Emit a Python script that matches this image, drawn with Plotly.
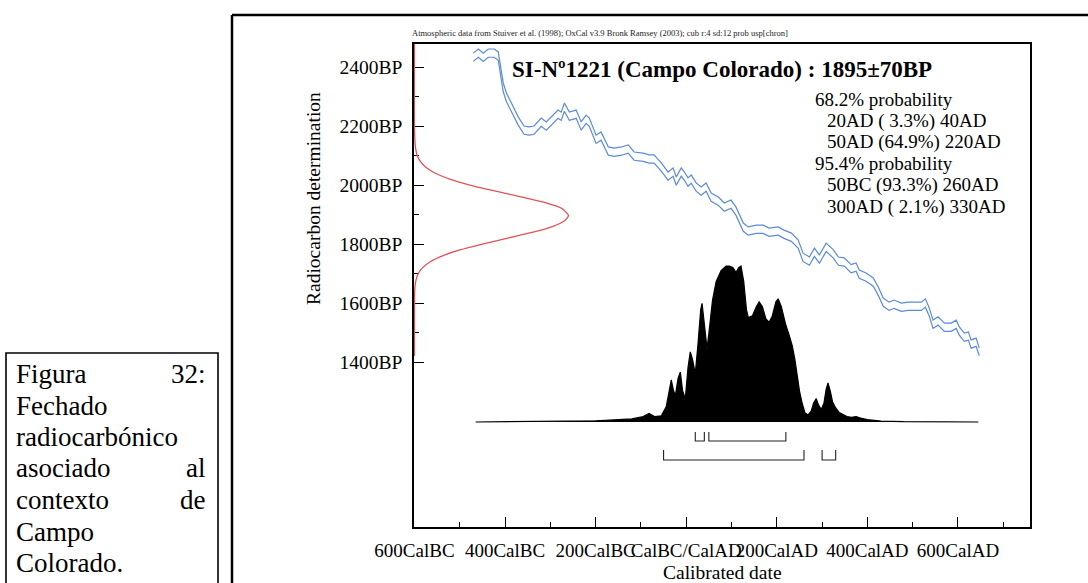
import plotly.graph_objects as go

# ---------------- data ----------------
# calibration curve (IntCal98 band, upper and lower edges)  year AD (neg = BC), BP
cal_year = [-470, -459, -448, -437, -424, -415, -404, -397, -386, -371, -358, -347, -336, -320,
            -309, -294, -283, -276, -269, -258, -243, -232, -221, -214, -199, -188, -172, -159,
            -143, -128, -115, -95, -82, -71, -55, -40, -29, -22, -11, -4, 4, 11, 22, 33, 44, 55,
            71, 84, 99, 110, 126, 137, 155, 170, 183, 203, 216, 232, 247, 258, 272, 283, 294,
            309, 325, 336, 349, 364, 375, 382, 397, 413, 424, 435, 448, 459, 475, 490, 503, 519,
            528, 536, 545, 556, 570, 585, 596, 603, 614, 623, 629, 640, 647]
cal_upper = [2447, 2461, 2447, 2461, 2461, 2451, 2346, 2312, 2278, 2231, 2200, 2197, 2200, 2227,
             2214, 2237, 2254, 2247, 2278, 2247, 2254, 2214, 2237, 2227, 2169, 2180, 2129, 2125,
             2129, 2136, 2112, 2108, 2102, 2102, 2075, 2044, 2058, 2027, 2058, 2044, 2024, 2034,
             2007, 1993, 2007, 1973, 1959, 1939, 1949, 1925, 1871, 1858, 1864, 1864, 1854, 1858,
             1847, 1837, 1814, 1769, 1756, 1786, 1763, 1803, 1780, 1756, 1753, 1730, 1736, 1712,
             1702, 1685, 1654, 1617, 1603, 1610, 1600, 1603, 1603, 1603, 1614, 1586, 1542, 1553,
             1532, 1532, 1542, 1519, 1498, 1502, 1475, 1481, 1447]
cal_lower = [2419, 2433, 2419, 2433, 2433, 2423, 2316, 2283, 2249, 2203, 2172, 2169, 2172, 2199,
             2186, 2209, 2226, 2219, 2250, 2219, 2226, 2186, 2209, 2199, 2141, 2152, 2101, 2097,
             2101, 2108, 2084, 2080, 2074, 2074, 2047, 2016, 2030, 1999, 2030, 2016, 1996, 2006,
             1979, 1965, 1979, 1945, 1931, 1911, 1921, 1897, 1843, 1830, 1836, 1836, 1826, 1830,
             1819, 1809, 1786, 1741, 1728, 1758, 1735, 1775, 1752, 1728, 1725, 1702, 1708, 1684,
             1674, 1657, 1626, 1589, 1575, 1582, 1572, 1575, 1575, 1575, 1586, 1558, 1514, 1525,
             1504, 1504, 1514, 1491, 1470, 1474, 1447, 1453, 1421]

# radiocarbon date 1895 +/- 70 BP, as drawn on the y axis (BP, height in years from axis)
red_bp = [2478, 2200, 2140, 2120, 2100, 2080, 2060, 2040, 2020, 2000, 1980, 1960, 1940, 1920,
          1900, 1895, 1880, 1860, 1840, 1820, 1800, 1780, 1760, 1740, 1720, 1700, 1680, 1660,
          1640, 1420]
red_amp = [0, 0, 1.5, 3, 6, 13, 25, 46, 78, 122, 177, 235, 289, 326, 339, 340, 332, 306, 262,
           206, 150, 100, 62, 35, 18, 8.5, 3.8, 1.5, 0.5, 0]

# calibrated probability distribution (year AD, relative probability)
dist_year = [-465, -300, -200, -150, -120, -95, -82, -70, -55, -44, -36, -33, -28, -24, -18, -13,
             -8, -2, 4, 9, 14, 20, 26, 32, 35, 40, 46, 52, 58, 66, 77, 88, 95, 103, 110, 116, 121,
             127, 133, 137, 146, 155, 161, 168, 176, 183, 190, 198, 203, 210, 220, 227, 234, 240,
             245, 250, 256, 262, 269, 276, 281, 287, 292, 298, 304, 309, 313, 318, 323, 330, 338,
             345, 355, 365, 375, 385, 400, 430, 480, 645]
dist_prob = [0, 0.002, 0.008, 0.015, 0.02, 0.035, 0.055, 0.035, 0.04, 0.1, 0.24, 0.27, 0.2, 0.17,
             0.28, 0.32, 0.2, 0.15, 0.35, 0.45, 0.4, 0.31, 0.5, 0.72, 0.76, 0.62, 0.47, 0.62, 0.78,
             0.9, 0.97, 1.0, 1.0, 0.99, 0.96, 0.99, 1.0, 0.9, 0.72, 0.67, 0.68, 0.74, 0.77, 0.74,
             0.66, 0.64, 0.68, 0.77, 0.79, 0.74, 0.62, 0.56, 0.49, 0.4, 0.3, 0.2, 0.12, 0.06,
             0.045, 0.07, 0.12, 0.15, 0.11, 0.08, 0.12, 0.21, 0.25, 0.2, 0.13, 0.09, 0.06, 0.05,
             0.035, 0.03, 0.035, 0.025, 0.015, 0.006, 0.002, 0]

# probability ranges
range_68 = [(20, 40), (50, 220)]
range_95 = [(-50, 260), (300, 330)]

x_tick_vals = [-600, -400, -200, 0, 200, 400, 600]
x_tick_text = ["600CalBC", "400CalBC", "200CalBC", "CalBC/CalAD", "200CalAD", "400CalAD", "600CalAD"]
y_tick_vals = [2400, 2200, 2000, 1800, 1600, 1400]
y_tick_text = ["2400BP", "2200BP", "2000BP", "1800BP", "1600BP", "1400BP"]
y_minor_vals = [2300, 2100, 1900, 1700, 1500]

title_text = "SI-Nº1221 (Campo Colorado) : 1895±70BP"
header_text = ("Atmospheric data from Stuiver et al. (1998); OxCal v3.9 Bronk Ramsey (2003); "
               "cub r:4 sd:12 prob usp[chron]")
prob_lines = [("68.2% probability", 0), ("20AD ( 3.3%) 40AD", 1), ("50AD (64.9%) 220AD", 1),
              ("95.4% probability", 0), ("50BC (93.3%) 260AD", 1), ("300AD ( 2.1%) 330AD", 1)]
caption_lines = [("Figura", "32:"), ("Fechado", ""), ("radiocarbónico", ""), ("asociado", "al"),
                 ("contexto", "de"), ("Campo", ""), ("Colorado.", "")]

# ---------------- layout geometry (pixels) ----------------
W, H = 1088, 583
PL, PR, PT, PB = 414, 1030, 44, 527
FONT = "Liberation Serif"

def px(x):
    return (x - PL) / (PR - PL)

def py(y):
    return (PB - y) / (PB - PT)

x_range = [-601, 759]
y_range = [840.7, 2478.0]
y2_range = [-0.673, 2.423]
row68_top, row68_bot = -0.064, -0.122
row95_top, row95_bot = -0.18, -0.244

fig = go.Figure()

# calibration curve
fig.add_trace(go.Scatter(x=cal_year, y=cal_upper, mode="lines",
                         line=dict(color="#5a8ad8", width=1.2), hoverinfo="skip"))
fig.add_trace(go.Scatter(x=cal_year, y=cal_lower, mode="lines",
                         line=dict(color="#5a8ad8", width=1.2), hoverinfo="skip"))

# radiocarbon measurement (red)
fig.add_trace(go.Scatter(x=[-600 + a for a in red_amp], y=red_bp, mode="lines",
                         line=dict(color="#e0525a", width=1.3, shape="spline", smoothing=0.6),
                         hoverinfo="skip"))

# calibrated distribution
fig.add_trace(go.Scatter(x=dist_year, y=dist_prob, yaxis="y2", mode="lines", fill="tozeroy",
                         fillcolor="black", line=dict(color="black", width=1.2),
                         hoverinfo="skip"))

# range brackets
bx, by = [], []
for (a, b) in range_68:
    bx += [a, a, b, b, None]
    by += [row68_top, row68_bot, row68_bot, row68_top, None]
for (a, b) in range_95:
    bx += [a, a, b, b, None]
    by += [row95_top, row95_bot, row95_bot, row95_top, None]
fig.add_trace(go.Scatter(x=bx, y=by, yaxis="y2", mode="lines",
                         line=dict(color="#222", width=1.1), hoverinfo="skip"))

annotations = []
annotations.append(dict(x=px(410), y=py(33), xref="paper", yref="paper", text=header_text,
                        showarrow=False, xanchor="left", yanchor="middle",
                        font=dict(family=FONT, size=8.5, color="#222")))
annotations.append(dict(x=px(510), y=py(70), xref="paper", yref="paper",
                        text="<b>" + title_text + "</b>", showarrow=False, xanchor="left",
                        yanchor="middle", font=dict(family=FONT, size=23, color="black")))
for i, (t, ind) in enumerate(prob_lines):
    annotations.append(dict(x=px(813 + 12 * ind), y=py(99 + 21.6 * i), xref="paper",
                            yref="paper", text=t, showarrow=False, xanchor="left",
                            yanchor="middle", font=dict(family=FONT, size=19, color="black")))
annotations.append(dict(x=px(313), y=py(199), xref="paper", yref="paper",
                        text="Radiocarbon determination", showarrow=False, textangle=-90,
                        xanchor="center", yanchor="middle",
                        font=dict(family=FONT, size=19.5, color="black")))
annotations.append(dict(x=px(722), y=py(572), xref="paper", yref="paper",
                        text="Calibrated date", showarrow=False, xanchor="center",
                        yanchor="middle", font=dict(family=FONT, size=19.5, color="black")))
for i, (lt, rt) in enumerate(caption_lines):
    yy = py(374 + 31.5 * i)
    annotations.append(dict(x=px(14), y=yy, xref="paper", yref="paper", text=lt,
                            showarrow=False, xanchor="left", yanchor="middle",
                            font=dict(family=FONT, size=27, color="black")))
    if rt:
        annotations.append(dict(x=px(208), y=yy, xref="paper", yref="paper", text=rt,
                                showarrow=False, xanchor="right", yanchor="middle",
                                font=dict(family=FONT, size=27, color="black")))

shapes = [
    dict(type="line", xref="paper", yref="paper", x0=px(232), x1=px(1090), y0=py(15), y1=py(15),
         line=dict(color="black", width=2.5)),
    dict(type="line", xref="paper", yref="paper", x0=px(232), x1=px(232), y0=py(15), y1=py(590),
         line=dict(color="black", width=2.5)),
    dict(type="rect", xref="paper", yref="paper", x0=px(6), x1=px(218), y0=py(353), y1=py(600),
         line=dict(color="black", width=1.6)),
]

fig.update_layout(
    width=W, height=H,
    margin=dict(l=PL, r=W - PR, t=PT, b=H - PB, pad=0),
    paper_bgcolor="white", plot_bgcolor="white",
    showlegend=False,
    annotations=annotations, shapes=shapes,
    xaxis=dict(range=x_range, tickmode="array", tickvals=x_tick_vals, ticktext=x_tick_text,
               tickangle=0, ticklabelstandoff=5,
               ticks="inside", ticklen=10, tickwidth=1, tickcolor="black",
               showline=True, mirror=True, linecolor="black", linewidth=1.5,
               showgrid=False, zeroline=False, layer="below traces",
               tickfont=dict(family=FONT, size=19, color="black"),
               minor=dict(tickmode="linear", tick0=-600, dtick=100, ticks="inside",
                          ticklen=5, tickcolor="black", showgrid=False)),
    yaxis=dict(range=y_range, tickmode="array", tickvals=y_tick_vals, ticktext=y_tick_text,
               ticks="inside", ticklen=10, tickwidth=1, tickcolor="black",
               showline=True, mirror=True, linecolor="black", linewidth=1.5,
               showgrid=False, zeroline=False, layer="below traces",
               ticklabelstandoff=6,
               tickfont=dict(family=FONT, size=19.5, color="black"),
               minor=dict(tickmode="array", tickvals=y_minor_vals, ticks="inside",
                          ticklen=5, tickcolor="black", showgrid=False)),
    yaxis2=dict(range=y2_range, overlaying="y", visible=False, showgrid=False, zeroline=False),
)

fig.write_html("out.html")
